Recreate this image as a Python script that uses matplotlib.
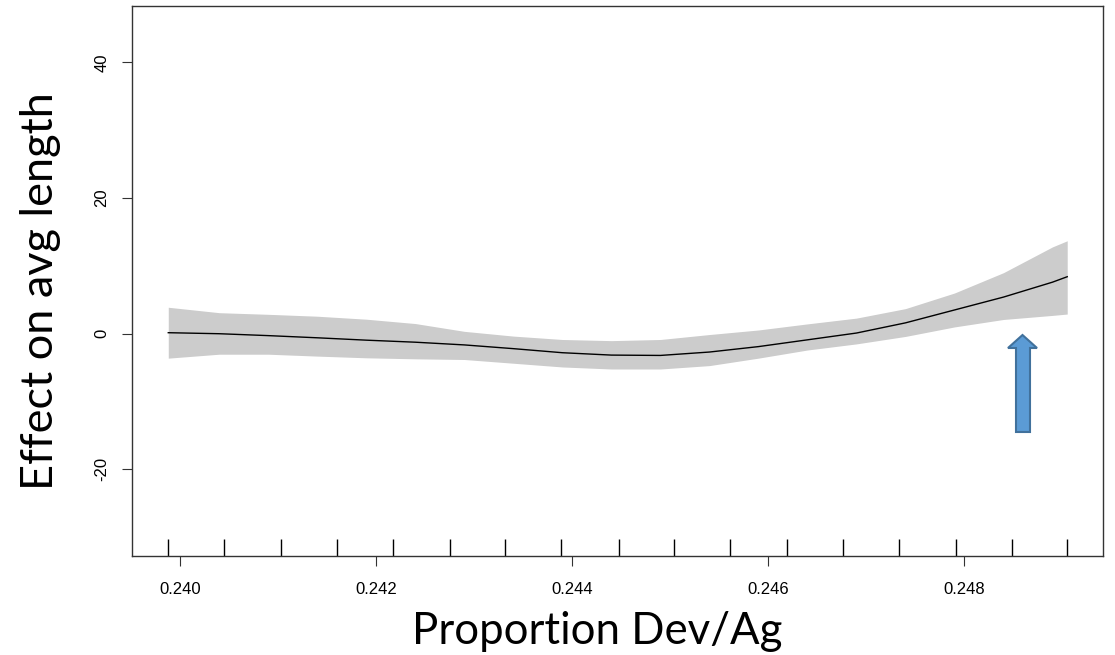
import numpy as np
import matplotlib
matplotlib.use('Agg')
import matplotlib.pyplot as plt
from matplotlib.patches import Polygon

# smooth term estimate and its confidence band
x = [0.23988, 0.2404, 0.2409, 0.2414, 0.2419, 0.2424, 0.2429, 0.2434, 0.2439, 0.2444,
     0.2449, 0.2454, 0.2459, 0.2464, 0.2469, 0.2474, 0.2479, 0.2484, 0.2489, 0.24905]
fit = [0.15, 0.0, -0.28, -0.6, -0.95, -1.25, -1.65, -2.2, -2.8, -3.15,
       -3.2, -2.7, -1.9, -0.9, 0.1, 1.6, 3.5, 5.4, 7.6, 8.4]
upper = [3.9, 3.1, 2.86, 2.58, 2.14, 1.5, 0.35, -0.35, -0.85, -1.02,
         -0.85, -0.12, 0.55, 1.45, 2.3, 3.7, 6.0, 9.0, 12.8, 13.7]
lower = [-3.6, -3.02, -3.02, -3.3, -3.55, -3.7, -3.8, -4.35, -4.9, -5.2,
         -5.2, -4.7, -3.6, -2.4, -1.5, -0.4, 1.0, 2.1, 2.7, 2.9]

# observed values (rug)
rug = [0.239881, 0.240452, 0.241031, 0.241598, 0.242169, 0.242751, 0.243319, 0.243888,
       0.244473, 0.245037, 0.245608, 0.246187, 0.246758, 0.247330, 0.247911, 0.248483,
       0.249051]

xticks = [0.240, 0.242, 0.244, 0.246, 0.248]
yticks = [-20, 0, 20, 40]

W, H = 1115, 655
fig = plt.figure(figsize=(W / 100, H / 100), dpi=100)
L, R, T, B = 132.3, 1103.3, 6, 556
ax = fig.add_axes([L / W, 1 - B / H, (R - L) / W, (B - T) / H])

ax.fill_between(x, lower, upper, color='#cccccc', linewidth=0)
ax.plot(x, fit, color='black', lw=1)
ax.vlines(rug, 0, 0.031, transform=ax.get_xaxis_transform(), color='black', lw=1)

ax.set_xlim(0.239513, 0.249418)
ax.set_ylim(-32.76, 48.3)
ax.set_xticks(xticks)
ax.set_xticklabels(['%.3f' % v for v in xticks])
ax.set_yticks(yticks)
ax.set_yticklabels([str(v) for v in yticks], rotation=90, va='center')
ax.tick_params(axis='both', direction='out', length=7.5, width=0.8, color='#333333',
               labelsize=12)
ax.tick_params(axis='x', pad=11)
ax.tick_params(axis='y', pad=9)
for lab in ax.get_xticklabels() + ax.get_yticklabels():
    lab.set_family('Liberation Sans')
for s in ax.spines.values():
    s.set_color('#333333')
    s.set_linewidth(1)

fig.text(597 / W, 1 - 632 / H, 'Proportion Dev/Ag', ha='center', va='center',
         fontsize=31.5, family='Lato')
fig.text(41 / W, 1 - 291 / H, 'Effect on avg length', ha='center', va='center',
         rotation=90, fontsize=32.5, family='Lato')

# blue arrow pointing at the upper end
def fx(px):
    return (px - L) / (R - L)

def fy(py):
    return (B - py) / (B - T)

pts = [(1016, 432), (1016, 348), (1008, 348), (1022.5, 335), (1037, 348),
       (1030, 348), (1030, 432)]
arrow = Polygon([(fx(a), fy(b)) for a, b in pts], closed=True, transform=ax.transAxes,
                facecolor='#5b9bd5', edgecolor='#41719c', lw=1.5, clip_on=False)
ax.add_patch(arrow)

fig.savefig('out.png', dpi=100)
